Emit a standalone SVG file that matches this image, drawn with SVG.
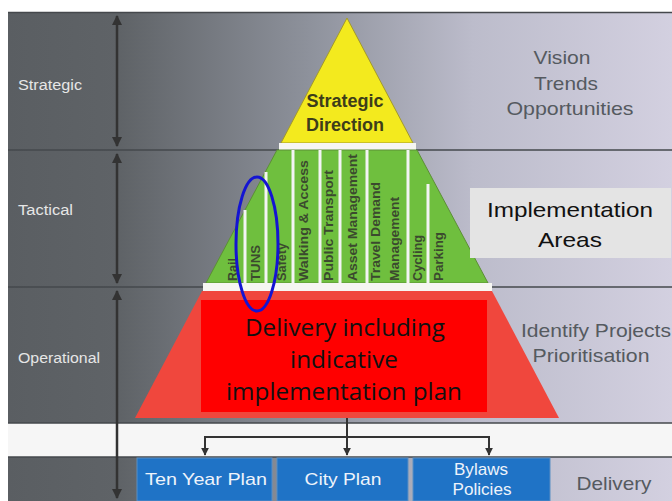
<svg xmlns="http://www.w3.org/2000/svg" width="672" height="501" viewBox="0 0 672 501">
  <defs>
    <linearGradient id="bandFill" x1="8" y1="0" x2="672" y2="0" gradientUnits="userSpaceOnUse">
      <stop offset="0" stop-color="#5a5e62"/>
      <stop offset="0.17" stop-color="#5f6367"/>
      <stop offset="0.45" stop-color="#8d919b"/>
      <stop offset="0.7" stop-color="#bcbccb"/>
      <stop offset="1" stop-color="#d3d0e0"/>
    </linearGradient>
    <marker id="tip" viewBox="0 0 10 10" refX="9" refY="5" markerWidth="4" markerHeight="4" orient="auto-start-reverse">
      <path d="M0,0 L10,5 L0,10 z" fill="#333"/>
    </marker>
  </defs>
  <style>
    .lvl { font-family: "Liberation Sans", Arial, sans-serif; font-size: 14px; fill: #e6e6e6; }
    .note { font-family: "Liberation Sans", Arial, sans-serif; font-size: 19px; fill: #555a60; text-anchor: middle; }
    .area { font-family: "Liberation Sans", Arial, sans-serif; font-size: 21px; fill: #111; text-anchor: middle; }
    .col { font-family: "Liberation Sans", Arial, sans-serif; font-size: 12.5px; font-weight: bold; fill: #3b4a2e; }
    .div { stroke: #f4f4f4; stroke-width: 3; }
    .rule { stroke: #45484c; stroke-width: 1.5; }
    .box { fill: #1f73c6; stroke: #5b8fc4; stroke-width: 1; }
    .boxtxt { font-family: "Liberation Sans", Arial, sans-serif; font-size: 17px; fill: #eef3fb; text-anchor: middle; }
    .link { stroke: #333; stroke-width: 2; fill: none; }
  </style>

  <!-- page background -->
  <rect x="0" y="0" width="672" height="501" fill="#ffffff"/>

  <!-- level bands -->
  <rect x="8" y="12" width="664" height="411" fill="url(#bandFill)"/>
  <rect x="8" y="423" width="664" height="34" fill="#f6f6f6"/>
  <rect x="8" y="457" width="664" height="44" fill="url(#bandFill)"/>
  <line class="rule" x1="8" y1="12.5" x2="672" y2="12.5"/>
  <line class="rule" x1="8" y1="150" x2="672" y2="150"/>
  <line class="rule" x1="8" y1="287" x2="672" y2="287"/>
  <line class="rule" x1="8" y1="423" x2="672" y2="423"/>
  <line class="rule" x1="8" y1="457" x2="672" y2="457"/>

  <!-- level scale -->
  <g id="scale">
    <line x1="117" y1="16" x2="117" y2="146" stroke="#333" stroke-width="2.5" marker-start="url(#tip)" marker-end="url(#tip)"/>
    <line x1="117" y1="154" x2="117" y2="283" stroke="#333" stroke-width="2.5" marker-start="url(#tip)" marker-end="url(#tip)"/>
    <line x1="117" y1="291" x2="117" y2="498" stroke="#333" stroke-width="2.5" marker-start="url(#tip)" marker-end="url(#tip)"/>
  </g>

  <g id="level-labels">
    <text class="lvl" x="18" y="90" textLength="64" lengthAdjust="spacingAndGlyphs">Strategic</text>
    <text class="lvl" x="18" y="215" textLength="55" lengthAdjust="spacingAndGlyphs">Tactical</text>
    <text class="lvl" x="18" y="363" textLength="82" lengthAdjust="spacingAndGlyphs">Operational</text>
  </g>

  <!-- top tier -->
  <g id="strategic-direction">
    <polygon points="347,18 413,143 281,143" fill="#f3ea1e" stroke="#a39a2a" stroke-width="1"/>
    <rect x="279" y="143" width="137" height="7" fill="#f6f6f2"/>
    <text x="345" y="107" font-family="'Liberation Sans', Arial, sans-serif" font-size="18" font-weight="bold" fill="#3d3d1a" text-anchor="middle" textLength="77" lengthAdjust="spacingAndGlyphs">Strategic</text>
    <text x="345" y="131" font-family="'Liberation Sans', Arial, sans-serif" font-size="18" font-weight="bold" fill="#3d3d1a" text-anchor="middle" textLength="78" lengthAdjust="spacingAndGlyphs">Direction</text>
  </g>

  <!-- middle tier -->
  <g id="implementation-columns">
    <polygon points="277,150 417,150 488,283 206,283" fill="#6fbf3e" stroke="#5c8f35" stroke-width="1"/>
    <line class="div" x1="245" y1="210" x2="245" y2="283"/>
    <line class="div" x1="266" y1="172" x2="266" y2="283"/>
    <line class="div" x1="293" y1="150" x2="293" y2="283"/>
    <line class="div" x1="320" y1="150" x2="320" y2="283"/>
    <line class="div" x1="340" y1="150" x2="340" y2="283"/>
    <line class="div" x1="367" y1="150" x2="367" y2="283"/>
    <line class="div" x1="408" y1="150" x2="408" y2="283"/>
    <line class="div" x1="428" y1="184" x2="428" y2="283"/>
    <text class="col" transform="translate(236.5,281) rotate(-90)" textLength="23" lengthAdjust="spacingAndGlyphs">Rail</text>
    <text class="col" transform="translate(260,281) rotate(-90)" textLength="36" lengthAdjust="spacingAndGlyphs">TUNS</text>
    <text class="col" transform="translate(286,281) rotate(-90)" textLength="38" lengthAdjust="spacingAndGlyphs">Safety</text>
    <text class="col" transform="translate(308,281) rotate(-90)" textLength="121" lengthAdjust="spacingAndGlyphs">Walking &amp; Access</text>
    <text class="col" transform="translate(333,281) rotate(-90)" textLength="111" lengthAdjust="spacingAndGlyphs">Public Transport</text>
    <text class="col" transform="translate(357,281) rotate(-90)" textLength="127" lengthAdjust="spacingAndGlyphs">Asset Management</text>
    <text class="col" transform="translate(380,281) rotate(-90)" textLength="99" lengthAdjust="spacingAndGlyphs">Travel Demand</text>
    <text class="col" transform="translate(399,281) rotate(-90)" textLength="84" lengthAdjust="spacingAndGlyphs">Management</text>
    <text class="col" transform="translate(422,281) rotate(-90)" textLength="46" lengthAdjust="spacingAndGlyphs">Cycling</text>
    <text class="col" transform="translate(443,281) rotate(-90)" textLength="49" lengthAdjust="spacingAndGlyphs">Parking</text>
    <rect x="203" y="283" width="289" height="8" fill="#f6f6f2"/>
  </g>

  <!-- bottom tier -->
  <g id="delivery-plan">
    <polygon points="202,291 492,291 559,418 135,418" fill="#f0473d"/>
    <rect x="201" y="300" width="286" height="112" fill="#ff0000"/>
    <g font-family="'Open Sans', 'Liberation Sans', sans-serif" font-size="24" fill="#111" text-anchor="middle">
      <text x="345" y="336" textLength="200" lengthAdjust="spacingAndGlyphs">Delivery including</text>
      <text x="344" y="368" textLength="108" lengthAdjust="spacingAndGlyphs">indicative</text>
      <text x="344" y="400" textLength="236" lengthAdjust="spacingAndGlyphs">implementation plan</text>
    </g>
  </g>

  <!-- focus ring -->
  <ellipse id="tuns-highlight" cx="257" cy="244" rx="21" ry="67" fill="none" stroke="#1414d2" stroke-width="3"/>

  <!-- side notes -->
  <g id="note-strategic">
    <text class="note" x="562" y="64" textLength="57" lengthAdjust="spacingAndGlyphs">Vision</text>
    <text class="note" x="566" y="90" textLength="64" lengthAdjust="spacingAndGlyphs">Trends</text>
    <text class="note" x="570" y="115" textLength="127" lengthAdjust="spacingAndGlyphs">Opportunities</text>
  </g>
  <g id="note-tactical">
    <rect x="470" y="188" width="201" height="70" fill="#e4e4e4"/>
    <text class="area" x="570" y="217" textLength="166" lengthAdjust="spacingAndGlyphs">Implementation</text>
    <text class="area" x="570" y="247" textLength="64" lengthAdjust="spacingAndGlyphs">Areas</text>
  </g>
  <g id="note-operational">
    <text class="note" x="596" y="337" textLength="150" lengthAdjust="spacingAndGlyphs">Identify Projects</text>
    <text class="note" x="591" y="362" textLength="117" lengthAdjust="spacingAndGlyphs">Prioritisation</text>
  </g>
  <g id="note-delivery">
    <text class="note" x="614" y="490" textLength="75" lengthAdjust="spacingAndGlyphs">Delivery</text>
  </g>

  <!-- outputs -->
  <g id="ten-year-plan">
    <rect class="box" x="137" y="458" width="135" height="43"/>
    <text class="boxtxt" x="206" y="485" textLength="122" lengthAdjust="spacingAndGlyphs">Ten Year Plan</text>
  </g>
  <g id="city-plan">
    <rect class="box" x="277" y="458" width="131" height="43"/>
    <text class="boxtxt" x="343" y="485" textLength="77" lengthAdjust="spacingAndGlyphs">City Plan</text>
  </g>
  <g id="bylaws-policies">
    <rect class="box" x="413" y="458" width="137" height="43"/>
    <text class="boxtxt" x="481" y="475" font-size="15" textLength="54" lengthAdjust="spacingAndGlyphs">Bylaws</text>
    <text class="boxtxt" x="482" y="495" font-size="15" textLength="59" lengthAdjust="spacingAndGlyphs">Policies</text>
  </g>

  <!-- connectors -->
  <g id="connectors">
    <line class="link" x1="347" y1="418" x2="347" y2="455" marker-end="url(#tip)"/>
    <polyline class="link" points="205,455 205,437 489,437 489,455" marker-start="url(#tip)" marker-end="url(#tip)"/>
  </g>
</svg>
